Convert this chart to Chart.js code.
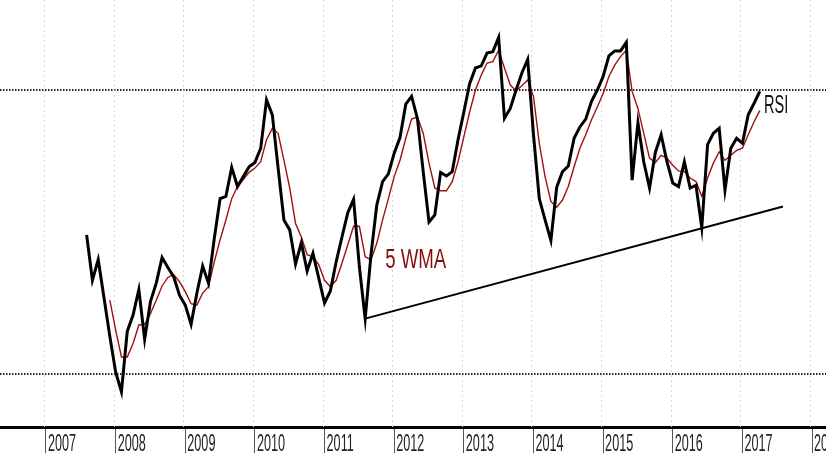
<!DOCTYPE html>
<html>
<head>
<meta charset="utf-8">
<script src="https://cdn.jsdelivr.net/npm/chart.js@4.4.1/dist/chart.umd.min.js"></script>
<style>
  body { margin: 0; background: #fff; }
  #wrap { width: 826px; height: 453px; }
</style>
</head>
<body>
<div id="wrap"><canvas id="rsiChart" width="826" height="453"></canvas></div>
<script>
// Monthly RSI, first value Aug 2007, last Apr 2017
const startYear = 2007;
const startMonth = 8;

const rsi = [
  49.6, 43.2, 46.1, 40.7, 35.3, 30.3, 27.5, 36.0, 38.3, 41.9,
  34.9, 40.2, 42.8, 46.4, 45.0, 43.7, 41.1, 39.7, 37.0, 41.4,
  45.2, 42.8, 49.1, 54.7, 55.0, 59.1, 56.4, 57.8, 59.2, 59.8,
  61.8, 68.6, 66.5, 59.0, 51.7, 50.3, 45.5, 48.5, 44.5, 47.0,
  43.5, 40.0, 41.7, 45.8, 49.3, 52.7, 54.6, 45.1, 37.8, 46.8,
  53.8, 57.1, 58.2, 61.1, 63.3, 68.0, 69.1, 66.0, 58.5, 51.4,
  52.4, 58.4, 57.9, 58.5, 63.0, 66.9, 70.9, 73.1, 73.4, 75.2,
  75.4, 77.4, 66.0, 67.4, 70.0, 72.4, 74.3, 63.7, 54.7, 51.7,
  48.8, 56.3, 58.5, 59.3, 63.2, 64.8, 65.9, 68.4, 70.0, 71.9,
  74.8, 75.5, 75.5, 76.7, 57.3, 65.4, 59.9, 56.2, 61.2, 63.7,
  59.9, 56.9, 56.4, 59.9, 56.2, 56.6, 50.6, 62.3, 63.9, 64.6,
  55.9, 61.8, 63.2, 62.5, 66.5, 68.1, 69.8
];

// 5 period weighted moving average
const wma5 = [
  null, null, null, null, 40.4, 36.2, 32.4, 32.4, 34.3, 36.9,
  37.0, 38.5, 40.4, 42.4, 43.6, 44.0, 43.0, 41.6, 39.9, 39.7,
  41.4, 42.3, 45.8, 48.9, 51.7, 54.7, 56.4, 57.4, 58.4, 59.0,
  59.9, 63.0, 64.6, 63.9, 60.1, 56.2, 51.2, 49.3, 46.8, 46.5,
  45.4, 43.2, 42.3, 43.2, 45.6, 48.2, 50.8, 50.8, 46.5, 46.1,
  48.4, 51.7, 54.7, 57.8, 60.1, 63.2, 65.9, 66.2, 63.9, 59.7,
  56.2, 55.8, 55.8, 57.1, 59.9, 63.4, 66.9, 70.0, 72.1, 73.8,
  74.0, 75.6, 73.1, 70.7, 69.9, 70.6, 71.4, 69.1, 62.5, 57.8,
  54.3, 53.5, 54.5, 56.4, 59.2, 61.8, 63.7, 65.8, 67.6, 69.5,
  71.9, 73.5, 74.7, 75.6, 69.8, 67.4, 63.9, 60.4, 59.8, 60.8,
  60.4, 59.4, 58.6, 58.5, 57.6, 57.1, 55.0, 57.6, 59.7, 61.3,
  60.1, 60.8, 61.5, 61.8, 63.7, 65.5, 67.1
];

const years = [2007, 2008, 2009, 2010, 2011, 2012, 2013, 2014, 2015, 2016, 2017, 2018];
const yearLabels = ['2007', '2008', '2009', '2010', '2011', '2012', '2013', '2014', '2015', '2016', '2017', '2018'];
const refLevels = [30, 70];

// support line under the lows
const trendMonths = ['2011-08', '2017-08'];
const trendValues = [37.8, 53.6];

// month labels 'YYYY-MM'
const months = rsi.map((v, i) => {
  const m = startMonth - 1 + i;
  const yr = startYear + Math.floor(m / 12);
  return yr + '-' + String(m % 12 + 1).padStart(2, '0');
});

function monthToYear(label) {
  const parts = label.split('-');
  return Number(parts[0]) + (Number(parts[1]) - 1) / 12;
}

const rsiPoints = months.map((m, i) => ({ x: monthToYear(m), y: rsi[i] }));
const wmaPoints = months.map((m, i) => ({ x: monthToYear(m), y: wma5[i] }));
const trendPoints = trendMonths.map((m, i) => ({ x: monthToYear(m), y: trendValues[i] }));

// draw condensed text (the original uses a narrow face)
function squeezedText(ctx, text, x, y, sx) {
  ctx.save();
  ctx.translate(x, y);
  ctx.scale(sx, 1);
  ctx.fillText(text, 0, 0);
  ctx.restore();
}

const yearGrid = {
  id: 'yearGrid',
  beforeDatasetsDraw(chart) {
    const { ctx, chartArea, scales } = chart;
    ctx.save();
    ctx.strokeStyle = '#d4d4ee';
    ctx.lineWidth = 1;
    ctx.setLineDash([2, 3]);
    years.forEach(yr => {
      const px = Math.round(scales.x.getPixelForValue(yr)) - 1.5;
      ctx.beginPath();
      ctx.moveTo(px, chartArea.top);
      ctx.lineTo(px, chartArea.bottom);
      ctx.stroke();
    });
    ctx.restore();
  }
};

const texts = {
  id: 'texts',
  afterDraw(chart) {
    const { ctx, scales } = chart;
    ctx.save();
    ctx.textBaseline = 'alphabetic';
    ctx.textAlign = 'left';

    // year labels right of each tick
    ctx.font = '23px "Liberation Sans", Arial, sans-serif';
    ctx.fillStyle = '#222';
    years.forEach((yr, i) => {
      const px = scales.x.getPixelForValue(yr) + 2;
      squeezedText(ctx, yearLabels[i], px, 450.5, 0.55);
    });

    // series names
    ctx.font = '26px "Liberation Sans", Arial, sans-serif';
    ctx.fillStyle = '#111';
    squeezedText(ctx, 'RSI', scales.x.getPixelForValue(2017.31), scales.y.getPixelForValue(66.8), 0.56);

    ctx.font = '27px "Liberation Sans", Arial, sans-serif';
    ctx.fillStyle = '#860d0d';
    squeezedText(ctx, '5 WMA', scales.x.getPixelForValue(2011.87), scales.y.getPixelForValue(44.9), 0.69);
    ctx.restore();
  }
};

const ctx = document.getElementById('rsiChart').getContext('2d');
const rsiChart = new Chart(ctx, {
  type: 'line',
  data: {
    datasets: [
      {
        label: 'RSI',
        data: rsiPoints,
        borderColor: '#000',
        borderWidth: 3,
        pointRadius: 0,
        tension: 0,
        order: 0
      },
      {
        label: '5 WMA',
        data: wmaPoints,
        borderColor: '#a01010',
        borderWidth: 1.4,
        pointRadius: 0,
        tension: 0,
        spanGaps: false,
        order: 1
      },
      {
        label: 'Trend',
        data: trendPoints,
        borderColor: '#000',
        borderWidth: 2,
        pointRadius: 0,
        order: 2
      }
    ]
  },
  options: {
    responsive: false,
    animation: false,
    devicePixelRatio: 1,
    layout: { padding: 0 },
    plugins: {
      legend: { display: false },
      tooltip: { enabled: false }
    },
    scales: {
      x: {
        type: 'linear',
        min: 2006.3395,
        max: 2018.2005,
        afterBuildTicks: scale => {
          scale.ticks = years.map(v => ({ value: v }));
        },
        ticks: { display: false },
        grid: {
          display: true,
          drawOnChartArea: false,
          drawTicks: true,
          tickLength: 26,
          color: '#555',
          lineWidth: 1
        },
        border: { display: true, color: '#000', width: 3 }
      },
      y: {
        type: 'linear',
        min: 22.535,
        max: 82.676,
        afterBuildTicks: scale => {
          scale.ticks = refLevels.map(v => ({ value: v }));
        },
        ticks: { display: false },
        grid: {
          display: true,
          drawTicks: false,
          color: '#2a2a2a',
          lineWidth: 2
        },
        border: { display: false, dash: [1.5, 1.5] }
      }
    }
  },
  plugins: [yearGrid, texts]
});
</script>
</body>
</html>
